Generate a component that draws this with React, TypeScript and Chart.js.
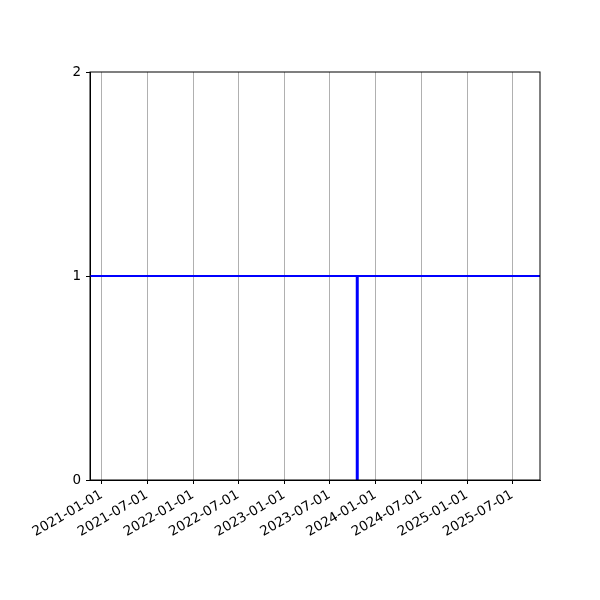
import React, { useEffect, useRef } from 'react';
import { Chart, registerables } from 'chart.js';

Chart.register(...registerables);

// tick dates shown on the x axis
const tickDates = [
  '2021-01-01', '2021-07-01', '2022-01-01', '2022-07-01', '2023-01-01',
  '2023-07-01', '2024-01-01', '2024-07-01', '2025-01-01', '2025-07-01',
];
const yTicks = [0, 1, 2];

// horizontal level line (spans the full axis)
const levelDates = ['2020-11-15', '2025-10-20'];
const levelValues = [1, 1];

// vertical event marker
const eventDates = ['2023-10-20', '2023-10-20'];
const eventValues = [0, 1];

const xMinDate = '2020-11-15';
const xMaxDate = '2025-10-20';

const ms = (d: string) => Date.parse(d + 'T00:00:00Z');

const frame = {
  id: 'frame',
  afterDatasetsDraw(chart: any) {
    const { ctx, chartArea: a } = chart;
    ctx.save();
    ctx.strokeStyle = '#000';
    ctx.lineWidth = 1;
    ctx.strokeRect(a.left, a.top, a.right - a.left, a.bottom - a.top);
    ctx.restore();
  },
};

const App: React.FC = () => {
  const chartRef = useRef<HTMLCanvasElement>(null);
  const chartInstance = useRef<Chart | null>(null);

  useEffect(() => {
    if (!chartRef.current) return;
    const ctx = chartRef.current.getContext('2d');
    if (!ctx) return;
    if (chartInstance.current) chartInstance.current.destroy();

    const font = { family: 'DejaVu Sans', size: 13.5 };

    chartInstance.current = new Chart(ctx, {
      type: 'scatter',
      data: {
        datasets: [
          {
            data: levelDates.map((d, i) => ({ x: ms(d), y: levelValues[i] })),
            showLine: true,
            borderColor: '#0000ff',
            borderWidth: 2,
            pointRadius: 0,
          },
          {
            data: eventDates.map((d, i) => ({ x: ms(d), y: eventValues[i] })),
            showLine: true,
            borderColor: '#0000ff',
            borderWidth: 3,
            pointRadius: 0,
          },
        ],
      },
      options: {
        animation: false,
        responsive: false,
        layout: { padding: { left: 0, right: 60, top: 72, bottom: 0 } },
        plugins: { legend: { display: false }, tooltip: { enabled: false } },
        scales: {
          x: {
            type: 'linear',
            min: ms(xMinDate),
            max: ms(xMaxDate),
            afterBuildTicks: (axis: any) => {
              axis.ticks = tickDates.map((d) => ({ value: ms(d) }));
            },
            afterFit: (axis: any) => {
              axis.height = 120;
            },
            ticks: {
              autoSkip: false,
              minRotation: 30,
              maxRotation: 30,
              color: '#000',
              font,
              padding: 3,
              callback: (v: any) => new Date(Number(v)).toISOString().slice(0, 10),
            },
            grid: {
              color: '#b0b0b0',
              lineWidth: 1,
              tickColor: '#000',
              tickLength: 4,
            },
            border: { color: '#000' },
          },
          y: {
            min: 0,
            max: 2,
            afterBuildTicks: (axis: any) => {
              axis.ticks = yTicks.map((v) => ({ value: v }));
            },
            afterFit: (axis: any) => {
              axis.width = 90;
            },
            ticks: { color: '#000', font, padding: 5 },
            grid: {
              drawOnChartArea: false,
              tickColor: '#000',
              tickLength: 4,
            },
            border: { color: '#000' },
          },
        },
      },
      plugins: [frame],
    });

    return () => {
      if (chartInstance.current) {
        chartInstance.current.destroy();
        chartInstance.current = null;
      }
    };
  }, []);

  return (
    <div style={{ position: 'absolute', left: 0, top: 0, width: 600, height: 600, background: '#fff' }}>
      <canvas ref={chartRef} width={600} height={600}></canvas>
    </div>
  );
};

export default App;
